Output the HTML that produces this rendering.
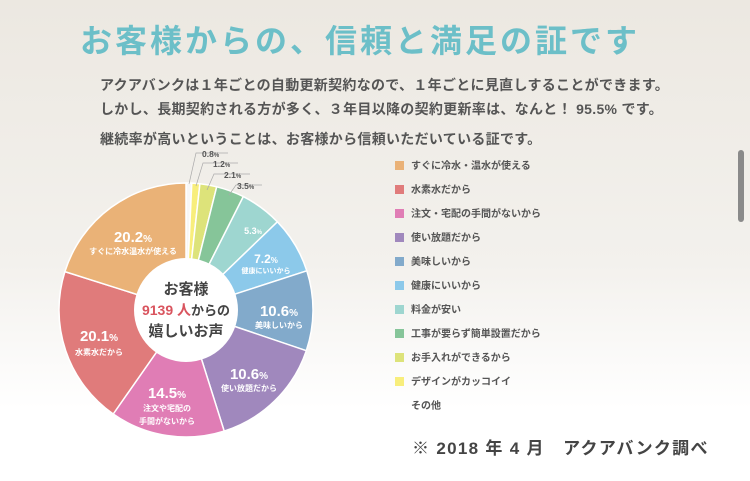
<!DOCTYPE html>
<html><head><meta charset="utf-8"><style>
html,body{margin:0;padding:0}
body{width:750px;height:481px;overflow:hidden;position:relative;background:linear-gradient(#ece8e1 0%,#f3f1ed 55%,#fff 85%,#fff 100%);font-family:"Liberation Sans","Noto Sans CJK JP",sans-serif;}
.t{position:absolute;white-space:nowrap}
h1{position:absolute;left:80px;top:16px;margin:0;font-size:32px;font-weight:bold;color:#6cbfc8;letter-spacing:3px}
.p{font-size:14px;font-weight:bold;color:#555;left:100px;letter-spacing:0.3px}
.lg{position:absolute;left:395px;font-size:10px;font-weight:bold;color:#555;white-space:nowrap}
.lg i{display:inline-block;width:9px;height:9px;margin-right:7px;vertical-align:-1px}
.sb{position:absolute;left:738px;top:150px;width:6px;height:72px;border-radius:3px;background:#8a8a8a}
</style></head><body>
<h1>お客様からの、信頼と満足の証です</h1>
<div class="t p" style="top:75px">アクアバンクは１年ごとの自動更新契約なので、１年ごとに見直しすることができます。</div>
<div class="t p" style="top:99px">しかし、長期契約される方が多く、３年目以降の契約更新率は、なんと！ 95.5% です。</div>
<div class="t p" style="top:129px">継続率が高いということは、お客様から信頼いただいている証です。</div>
<div class="sb"></div>
<svg width="750" height="481" style="position:absolute;left:0;top:0" font-family="Liberation Sans, Noto Sans CJK JP, sans-serif">
<g stroke="#fff" stroke-width="1.5">
<path d="M186 310L186 183A127 127 0 0 1 191.8 183.1Z" fill="#f7f7f7"/>
<path d="M186 310L191.8 183.1A127 127 0 0 1 199.9 183.8Z" fill="#f8ee7c"/>
<path d="M186 310L199.9 183.8A127 127 0 0 1 216.7 186.8Z" fill="#dde37a"/>
<path d="M186 310L216.7 186.8A127 127 0 0 1 243.3 196.6Z" fill="#86c599"/>
<path d="M186 310L243.3 196.6A127 127 0 0 1 277.4 221.8Z" fill="#9ed6d0"/>
<path d="M186 310L277.4 221.8A127 127 0 0 1 306.8 270.8Z" fill="#8cc9ea"/>
<path d="M186 310L306.8 270.8A127 127 0 0 1 306.3 350.7Z" fill="#82aacb"/>
<path d="M186 310L306.3 350.7A127 127 0 0 1 224.2 431.1Z" fill="#a088bd"/>
<path d="M186 310L224.2 431.1A127 127 0 0 1 113.2 414Z" fill="#e07db5"/>
<path d="M186 310L113.2 414A127 127 0 0 1 64.9 271.6Z" fill="#e07b7b"/>
<path d="M186 310L64.9 271.6A127 127 0 0 1 186 183Z" fill="#eab277"/>
</g>
<circle cx="186" cy="310" r="52" fill="#fff"/>
<g stroke="#aaa" stroke-width="0.7" fill="none">
<polyline points="189,184 196,153 228,153"/>
<polyline points="196,186 203,163 238,163"/>
<polyline points="207,190 214,174 250,174"/>
<polyline points="229,195 236,185 262,185"/>
</g>
<g font-size="8.5" font-weight="bold" fill="#555">
<text x="202" y="157">0.8<tspan font-size="6">%</tspan></text>
<text x="213" y="167">1.2<tspan font-size="6">%</tspan></text>
<text x="224" y="178">2.1<tspan font-size="6">%</tspan></text>
<text x="237" y="189">3.5<tspan font-size="6">%</tspan></text>
</g>
<g fill="#fff" font-weight="bold" text-anchor="middle">
<text x="133" y="242" font-size="15">20.2<tspan font-size="10">%</tspan></text>
<text x="133" y="254" font-size="8">すぐに冷水温水が使える</text>
<text x="99" y="341" font-size="15">20.1<tspan font-size="10">%</tspan></text>
<text x="99" y="355" font-size="8">水素水だから</text>
<text x="167" y="398" font-size="15">14.5<tspan font-size="10">%</tspan></text>
<text x="167" y="411" font-size="8">注文や宅配の</text>
<text x="167" y="424" font-size="8">手間がないから</text>
<text x="249" y="379" font-size="15">10.6<tspan font-size="10">%</tspan></text>
<text x="249" y="391" font-size="8">使い放題だから</text>
<text x="279" y="316" font-size="15">10.6<tspan font-size="10">%</tspan></text>
<text x="279" y="328" font-size="8">美味しいから</text>
<text x="266" y="263" font-size="12">7.2<tspan font-size="8">%</tspan></text>
<text x="266" y="273" font-size="7">健康にいいから</text>
<text x="253" y="234" font-size="9">5.3<tspan font-size="6">%</tspan></text>
</g>
<g font-weight="bold" text-anchor="middle" fill="#444">
<text x="186" y="294" font-size="15">お客様</text>
<text x="186" y="315" font-size="13"><tspan fill="#d9545e" font-size="14">9139 人</tspan>からの</text>
<text x="186" y="336" font-size="15">嬉しいお声</text>
</g>
</svg>
<div class="lg" style="top:157px"><i style="background:#eab277"></i>すぐに冷水・温水が使える</div>
<div class="lg" style="top:181px"><i style="background:#e07b7b"></i>水素水だから</div>
<div class="lg" style="top:205px"><i style="background:#e07db5"></i>注文・宅配の手間がないから</div>
<div class="lg" style="top:229px"><i style="background:#a088bd"></i>使い放題だから</div>
<div class="lg" style="top:253px"><i style="background:#82aacb"></i>美味しいから</div>
<div class="lg" style="top:277px"><i style="background:#8cc9ea"></i>健康にいいから</div>
<div class="lg" style="top:301px"><i style="background:#9ed6d0"></i>料金が安い</div>
<div class="lg" style="top:325px"><i style="background:#86c599"></i>工事が要らず簡単設置だから</div>
<div class="lg" style="top:349px"><i style="background:#dde37a"></i>お手入れができるから</div>
<div class="lg" style="top:373px"><i style="background:#f8ee7c"></i>デザインがカッコイイ</div>
<div class="lg" style="top:397px"><i style="background:transparent"></i>その他</div>
<div class="t" style="left:412px;top:434px;font-size:17px;font-weight:bold;color:#444;letter-spacing:1.3px">※ 2018 年 4 月　アクアバンク調べ</div>
</body></html>
